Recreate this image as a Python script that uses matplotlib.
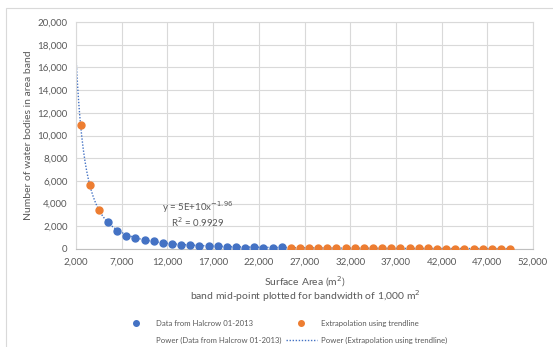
import matplotlib
matplotlib.use("Agg")
import matplotlib.pyplot as plt
from matplotlib.lines import Line2D
from matplotlib.patches import Rectangle
import numpy as np

plt.rcParams['font.family'] = ['Lato', 'DejaVu Sans']

# Band mid-points (m²) and counts of water bodies
halcrow_x = [5500, 6500, 7500, 8500, 9500, 10500, 11500, 12500, 13500, 14500,
             15500, 16500, 17500, 18500, 19500, 20500, 21500, 22500, 23500, 24500]
halcrow_y = [2400, 1560, 1170, 940, 765, 675, 530, 440, 380, 325,
             290, 265, 260, 205, 175, 120, 150, 120, 120, 175]

extrap_x = [2500, 3500, 4500] + list(range(25500, 50500, 1000))
extrap_y = [10900, 5600, 3450,
            112, 104, 97, 90, 84, 79, 74, 70, 66, 62, 59, 56, 53, 50, 48,
            46, 44, 42, 40, 38, 37, 35, 34, 32, 31]

# Power trendline y = a * x^b
trend_a = 5e10
trend_b = -1.96
trend_r2 = 0.9929

x_ticks = [2000, 7000, 12000, 17000, 22000, 27000, 32000, 37000, 42000, 47000, 52000]
y_ticks = [0, 2000, 4000, 6000, 8000, 10000, 12000, 14000, 16000, 18000, 20000]

blue = '#4472C4'
orange = '#ED7D31'
txt = '#595959'

fig = plt.figure(figsize=(5.53, 3.47), dpi=100)
fig.patch.set_facecolor('white')
fig.patches.append(Rectangle((6 / 553, -0.01), 1.0, 1 - 8 / 347 + 0.01,
                             transform=fig.transFigure, fill=False,
                             edgecolor='#d9d9d9', linewidth=0.8))

ax = fig.add_axes([76 / 553, 1 - 249 / 347, (533 - 76) / 553, (249 - 22) / 347])

tx = np.linspace(1950, 50000, 800)
ax.plot(tx, trend_a * tx ** trend_b, linestyle=(0, (1, 1.2)), color=blue,
        linewidth=1.0, zorder=2)
ax.plot(halcrow_x, halcrow_y, 'o', color=blue, markersize=5, zorder=3)
ax.plot(extrap_x, extrap_y, 'o', color=orange, markersize=5, zorder=3)

ax.set_xlim(2000, 52000)
ax.set_ylim(0, 20000)
ax.set_xticks(x_ticks)
ax.set_yticks(y_ticks)
ax.set_xticklabels([f'{v:,}' for v in x_ticks])
ax.set_yticklabels([f'{v:,}' for v in y_ticks])
ax.tick_params(length=0, labelsize=7, colors=txt, pad=6)
ax.grid(True, color='#d9d9d9', linewidth=0.8)
ax.set_axisbelow(True)
for s in ['top', 'right', 'left']:
    ax.spines[s].set_color('#d9d9d9')
    ax.spines[s].set_linewidth(0.8)
ax.spines['bottom'].set_color('#bfbfbf')
ax.spines['bottom'].set_linewidth(0.8)

ax.set_ylabel('Number of water bodies in area band', fontsize=7.5, color=txt, labelpad=3)
fig.text(305 / 553, 1 - 282 / 347, 'Surface Area (m$^2$)', ha='center', va='center',
         fontsize=7.5, color=txt)
fig.text(305 / 553, 1 - 296 / 347, 'band mid-point plotted for bandwidth of 1,000 m$^2$',
         ha='center', va='center', fontsize=7.5, color=txt)

ax.text(15300, 3650, f'y = 5E+10x$^{{{trend_b}}}$', ha='center', va='center',
        fontsize=7, color=txt)
ax.text(15300, 2350, f'R$^2$ = {trend_r2}', ha='center', va='center',
        fontsize=7, color=txt)

handles = [
    Line2D([], [], marker='o', color=blue, linestyle='none', markersize=4),
    Line2D([], [], color='none'),
    Line2D([], [], marker='o', color=orange, linestyle='none', markersize=4),
    Line2D([], [], color=blue, linestyle=(0, (1, 1.2)), linewidth=1.0),
]
labels = ['Data from Halcrow 01-2013', 'Power (Data from Halcrow 01-2013)',
          'Extrapolation using trendline', 'Power (Extrapolation using trendline)']
fig.legend(handles, labels, ncol=2, loc='center', bbox_to_anchor=(284 / 553, 1 - 332 / 347),
           frameon=False, fontsize=5.6, labelcolor=txt, handlelength=4.0,
           columnspacing=0.5, labelspacing=1.3, handletextpad=0.6,
           borderpad=0.2)

fig.savefig('out.png', dpi=100)
